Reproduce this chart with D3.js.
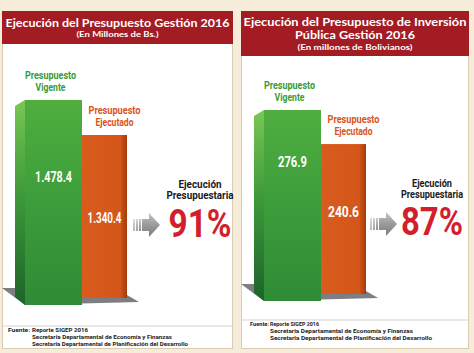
<!DOCTYPE html>
<html><head><meta charset="utf-8">
<script src="https://cdn.jsdelivr.net/npm/d3@7"></script>
<style>html,body{margin:0;padding:0;background:#f5edd9;} svg{display:block}</style>
</head><body>
<svg id="c" width="474" height="353"></svg>
<script>
// ---- data ----
const titles = [["Ejecución del Presupuesto Gestión 2016"], ["Ejecución del Presupuesto de Inversión", "Pública Gestión 2016"]];
const subtitles = ["(En  Millones de Bs.)", "(En millones de Bolivianos)"];
const categories = [["Presupuesto", "Vigente"], ["Presupuesto", "Ejecutado"]];
const vigente = [1478.4, 276.9];
const ejecutado = [1340.4, 240.6];
const vigenteLabels = ["1.478.4", "276.9"];
const ejecutadoLabels = ["1.340.4", "240.6"];
const axisStart = [805, 108];
const kpiLabel = ["Ejecución", "Presupuestaria"];
const sourceHead = "Fuente:";
const sourceLines = ["Reporte  SIGEP 2016", "Secretaria Departamental de Economía y Finanzas", "Secretaria Departamental de Planificación del Desarrollo"];

// ---- layout ----
const layout = [
  {x0: 2, x1: 233, headH: 33, titleY: [26.5], titleW: [224], titleSize: 12, subY: 36.5, subW: 82,
   base: 305, top: 100, gValY: 182, oValY: 223, gValW: 37, oValW: 34,
   kpiX: 198, kpiY: [187.5, 199], kpiW: [43, 67], pctY: 237, pctW: 63,
   arrowX: 131, arrowY: 225, sepY: 326, srcY: [332, 339, 345.5], srcX: 6, srcIndent: 30,
   srcHeadW: 22, srcW: [56, 140, 156]},
  {x0: 241, x1: 469, headH: 45, titleY: [26, 38.5], titleW: [223, 120], titleSize: 11.5, subY: 49.5, subW: 115,
   base: 301, top: 110, gValY: 167, oValY: 217, gValW: 29, oValW: 31,
   kpiX: 191, kpiY: [186.5, 198], kpiW: [40, 62], pctY: 235, pctW: 62,
   arrowX: 129, arrowY: 224, sepY: 320, srcY: [326, 333, 340], srcX: 9, srcIndent: 29,
   srcHeadW: 19, srcW: [49, 143, 162]}
];
const catW = [[51, 30], [52, 38]];
const panelTop = 11, panelBottom = 349;
const cond = "Roboto, 'Liberation Sans', sans-serif";
const titleFont = "Lato, 'Open Sans', sans-serif";

const svg = d3.select("#c");
const defs = svg.append("defs");
function lg(id, x2, y2, stops) {
  const g = defs.append("linearGradient").attr("id", id).attr("x1", 0).attr("y1", 0).attr("x2", x2).attr("y2", y2);
  stops.forEach(s => g.append("stop").attr("offset", s[0]).attr("stop-color", s[1]));
}
lg("gFront", 0, 1, [[0, "#4fae3e"], [0.5, "#3d9d3b"], [1, "#2f8b35"]]);
lg("gSide", 0, 1, [[0, "#78c853"], [0.45, "#3f9a3a"], [1, "#1b642a"]]);
lg("oFront", 1, 0, [[0, "#d95c1d"], [0.85, "#d4561a"], [0.93, "#b8470f"], [1, "#a33d0c"]]);
lg("arrowG", 0, 1, [[0, "#c4c4c4"], [0.5, "#9a9a9a"], [1, "#7c7c7c"]]);

function fit(sel, w) {
  sel.attr("textLength", w).attr("lengthAdjust", "spacingAndGlyphs");
  return sel;
}

layout.forEach((L, i) => {
  const g = svg.append("g").attr("transform", `translate(${L.x0},0)`);
  const W = L.x1 - L.x0;
  // panel
  g.append("rect").attr("x", 0.5).attr("y", panelTop + 0.5).attr("width", W - 1).attr("height", panelBottom - panelTop - 1)
    .attr("fill", "#ffffff").attr("stroke", "#d9ccb0").attr("stroke-width", 1);
  g.append("rect").attr("x", 0).attr("y", panelTop).attr("width", W).attr("height", L.headH).attr("fill", "#a31b23");
  // titles
  titles[i].forEach((t, k) => {
    const tx = g.append("text").attr("x", W / 2).attr("y", L.titleY[k]).attr("text-anchor", "middle")
      .attr("font-family", titleFont).attr("font-weight", 700).attr("font-size", L.titleSize).attr("fill", "#fff").text(t);
    fit(tx, L.titleW[k]);
  });
  fit(g.append("text").attr("x", W / 2).attr("y", L.subY).attr("text-anchor", "middle")
    .attr("font-family", titleFont).attr("font-weight", 700).attr("font-size", 8).attr("fill", "#fff").text(subtitles[i]), L.subW);

  // scale
  const y = d3.scaleLinear().domain([axisStart[i], vigente[i]]).range([L.base, L.top]);
  const sideX0 = 13, fX0 = 23, fX1 = 80, oX1 = 125;
  const gTop = y(vigente[i]);
  const oH = L.base - y(ejecutado[i]);
  const oBase = L.base - 7;
  const oTop = oBase - oH;

  // shadow
  g.append("polygon").attr("points", [[0, L.base - 17], [fX0, L.base], [oX1 + 12, L.base - 3], [oX1, L.base - 10], [sideX0, L.base - 17]].join(" "))
    .attr("fill", "#7e7e82");
  // orange bar
  g.append("rect").attr("x", fX1).attr("y", oTop).attr("width", oX1 - fX1).attr("height", oH).attr("fill", "url(#oFront)");
  // green side
  g.append("polygon").attr("points", [[sideX0, gTop + 6], [fX0, gTop], [fX0, L.base], [sideX0, L.base - 8]].join(" "))
    .attr("fill", "url(#gSide)");
  // green front
  g.append("rect").attr("x", fX0).attr("y", gTop).attr("width", fX1 - fX0).attr("height", L.base - gTop).attr("fill", "url(#gFront)");

  // category labels
  const cTxt = (x, yy, t, col, w) => fit(g.append("text").attr("x", x).attr("y", yy).attr("text-anchor", "middle")
    .attr("font-family", cond).attr("font-weight", 700).attr("font-size", 11).attr("fill", col).text(t), w);
  const gx = (sideX0 + fX1) / 2 + 2, ox = (fX1 + oX1) / 2 + 10;
  cTxt(gx, gTop - 21.5, categories[0][0], "#3a9a37", catW[0][0]);
  cTxt(gx, gTop - 9.5, categories[0][1], "#3a9a37", catW[0][1]);
  cTxt(ox, oTop - 21, categories[1][0], "#d8531d", catW[1][0]);
  cTxt(ox, oTop - 9, categories[1][1], "#d8531d", catW[1][1]);

  // values
  fit(g.append("text").attr("x", (fX0 + fX1) / 2).attr("y", L.gValY).attr("text-anchor", "middle")
    .attr("font-family", cond).attr("font-weight", 700).attr("font-size", 15).attr("fill", "#fff").text(vigenteLabels[i]), L.gValW);
  fit(g.append("text").attr("x", (fX1 + oX1) / 2).attr("y", L.oValY).attr("text-anchor", "middle")
    .attr("font-family", cond).attr("font-weight", 700).attr("font-size", 15).attr("fill", "#fff").text(ejecutadoLabels[i]), L.oValW);

  // arrow
  const ax = L.arrowX, ay = L.arrowY;
  const ag = g.append("g").attr("fill", "url(#arrowG)");
  [0, 3, 6].forEach((d, k) => ag.append("rect").attr("x", ax + d).attr("y", ay - 6).attr("width", 2).attr("height", 12).attr("opacity", 0.55 + k * 0.15));
  ag.append("polygon").attr("points", [[ax + 9, ay - 6], [ax + 16, ay - 6], [ax + 16, ay - 12], [ax + 27, ay], [ax + 16, ay + 12], [ax + 16, ay + 6], [ax + 9, ay + 6]].join(" "));

  // KPI
  kpiLabel.forEach((t, k) => fit(g.append("text").attr("x", L.kpiX).attr("y", L.kpiY[k]).attr("text-anchor", "middle")
    .attr("font-family", cond).attr("font-weight", 700).attr("font-size", 10.5).attr("fill", "#1a1a1a").text(t), L.kpiW[k]));
  const pct = Math.round(ejecutado[i] / vigente[i] * 100) + "%";
  fit(g.append("text").attr("x", L.kpiX).attr("y", L.pctY).attr("text-anchor", "middle")
    .attr("font-family", cond).attr("font-weight", 700).attr("font-size", 38).attr("fill", "#d21f2b").text(pct), L.pctW);

  // source
  g.append("line").attr("x1", 1).attr("x2", W - 1).attr("y1", L.sepY).attr("y2", L.sepY).attr("stroke", "#d3d3d3").attr("stroke-width", 1);
  fit(g.append("text").attr("x", L.srcX).attr("y", L.srcY[0]).attr("font-family", cond).attr("font-weight", 700)
    .attr("font-size", 6).attr("fill", "#222").text(sourceHead), L.srcHeadW);
  sourceLines.forEach((t, k) => fit(g.append("text").attr("x", L.srcIndent).attr("y", L.srcY[k]).attr("font-family", cond)
    .attr("font-weight", 700).attr("font-size", 6).attr("fill", "#222").text(t), L.srcW[k]));
});
</script>
</body></html>
